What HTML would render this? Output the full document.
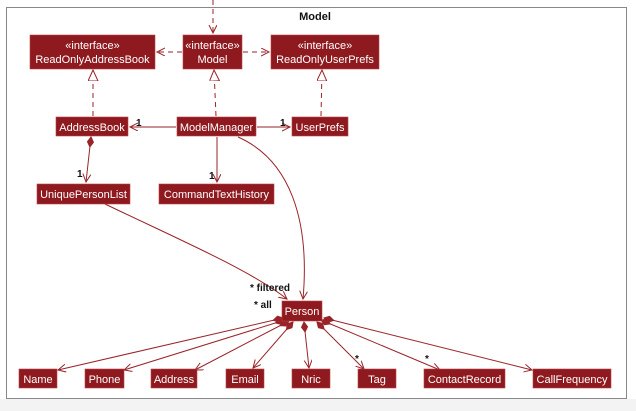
<!DOCTYPE html>
<html><head><meta charset="utf-8"><style>
html,body{margin:0;padding:0;background:#fff;}
svg{display:block;font-family:"Liberation Sans",sans-serif;}
.b{fill:#8e1a1f;stroke:#b8454a;stroke-width:.6}
.t{fill:#fff;font-size:11px;text-anchor:middle}
.l{stroke:#9a2328;stroke-width:1;fill:none}
.d{stroke-dasharray:5,4}
.m{font-size:10px;font-weight:bold;fill:#111}
</style></head><body>
<svg width="636" height="411" viewBox="0 0 636 411">
<rect x="0" y="0" width="636" height="411" fill="#fff"/>
<rect x="0" y="399" width="636" height="12" fill="#f3f3f3"/>
<rect x="6.5" y="7.5" width="620" height="391" fill="#fff" stroke="#888" stroke-width="1"/>
<text x="315" y="20" font-size="11" font-weight="bold" text-anchor="middle" fill="#111">Model</text>
<defs>
<marker id="a" markerWidth="10" markerHeight="10" refX="8" refY="4" orient="auto" markerUnits="userSpaceOnUse"><path d="M0,0 L8,4 L0,8" fill="none" stroke="#9a2328"/></marker>
<marker id="tri" markerWidth="14" markerHeight="14" refX="11" refY="5" orient="auto" markerUnits="userSpaceOnUse"><path d="M0,0 L11,5 L0,10 Z" fill="#fff" stroke="#9a2328"/></marker>
<marker id="dia" markerWidth="14" markerHeight="10" refX="1" refY="4" orient="auto" markerUnits="userSpaceOnUse"><path d="M1,4 L6,1 L11,4 L6,7 Z" fill="#9a2328" stroke="#9a2328"/></marker>
</defs>
<line class="l d" x1="213" y1="0" x2="213" y2="33" marker-end="url(#a)"/>
<line class="l d" x1="182" y1="52" x2="157" y2="52" marker-end="url(#a)"/>
<line class="l d" x1="243" y1="52" x2="269" y2="52" marker-end="url(#a)"/>
<line class="l d" x1="93" y1="116" x2="93" y2="70" marker-end="url(#tri)"/>
<line class="l d" x1="216" y1="116" x2="214" y2="70" marker-end="url(#tri)"/>
<line class="l d" x1="321" y1="116" x2="322" y2="70" marker-end="url(#tri)"/>
<line class="l" x1="176" y1="127" x2="130" y2="127" marker-end="url(#a)"/>
<line class="l" x1="257" y1="127" x2="290" y2="127" marker-end="url(#a)"/>
<line class="l" x1="217" y1="137" x2="217" y2="182" marker-end="url(#a)"/>
<line class="l" x1="91" y1="137" x2="86" y2="182" marker-start="url(#dia)" marker-end="url(#a)"/>
<path class="l" d="M238 137 C290 160,310 220,303 299" marker-end="url(#a)"/>
<path class="l" d="M105 204 C180 240,250 270,287 299" marker-end="url(#a)"/>
<g class="l">
<line x1="283" y1="318" x2="58" y2="370" marker-start="url(#dia)" marker-end="url(#a)"/>
<line x1="285" y1="320" x2="124" y2="370" marker-start="url(#dia)" marker-end="url(#a)"/>
<line x1="289" y1="321" x2="195" y2="370" marker-start="url(#dia)" marker-end="url(#a)"/>
<line x1="293" y1="322" x2="253" y2="368" marker-start="url(#dia)" marker-end="url(#a)"/>
<line x1="304" y1="322" x2="309" y2="368" marker-start="url(#dia)" marker-end="url(#a)"/>
<line x1="317" y1="322" x2="364" y2="369" marker-start="url(#dia)" marker-end="url(#a)"/>
<line x1="321" y1="320" x2="440" y2="370" marker-start="url(#dia)" marker-end="url(#a)"/>
<line x1="324" y1="318" x2="532" y2="370" marker-start="url(#dia)" marker-end="url(#a)"/>
</g>
<text class="m" x="136" y="126">1</text>
<text class="m" x="280" y="126">1</text>
<text class="m" x="209" y="179">1</text>
<text class="m" x="77" y="177">1</text>
<text class="m" x="250" y="291">* filtered</text>
<text class="m" x="254" y="308">* all</text>
<text class="m" x="355" y="362" font-weight="normal">*</text>
<text class="m" x="425" y="362" font-weight="normal">*</text>
<rect class="b" x="30" y="35" width="125" height="34"/><text class="t" x="92.5" y="49">«interface»</text><text class="t" x="92.5" y="63">ReadOnlyAddressBook</text>
<rect class="b" x="183" y="35" width="59" height="34"/><text class="t" x="212.5" y="49">«interface»</text><text class="t" x="212.5" y="63">Model</text>
<rect class="b" x="271" y="35" width="108" height="34"/><text class="t" x="325" y="49">«interface»</text><text class="t" x="325" y="63">ReadOnlyUserPrefs</text>
<rect class="b" x="56" y="117" width="72" height="19"/><text class="t" x="92" y="131">AddressBook</text>
<rect class="b" x="177" y="117" width="79" height="19"/><text class="t" x="216.5" y="131">ModelManager</text>
<rect class="b" x="292" y="117" width="56" height="19"/><text class="t" x="320" y="131">UserPrefs</text>
<rect class="b" x="37" y="184" width="93" height="20"/><text class="t" x="83.5" y="198">UniquePersonList</text>
<rect class="b" x="159" y="184" width="115" height="20"/><text class="t" x="216.5" y="198">CommandTextHistory</text>
<rect class="b" x="282" y="301" width="40" height="20"/><text class="t" x="302" y="315">Person</text>
<rect class="b" x="19" y="369" width="38" height="19"/><text class="t" x="38" y="383">Name</text>
<rect class="b" x="85" y="369" width="39" height="19"/><text class="t" x="104.5" y="383">Phone</text>
<rect class="b" x="151" y="369" width="46" height="19"/><text class="t" x="174" y="383">Address</text>
<rect class="b" x="226" y="369" width="38" height="19"/><text class="t" x="245" y="383">Email</text>
<rect class="b" x="292" y="369" width="38" height="19"/><text class="t" x="311" y="383">Nric</text>
<rect class="b" x="358" y="369" width="38" height="19"/><text class="t" x="377" y="383">Tag</text>
<rect class="b" x="424" y="369" width="81" height="19"/><text class="t" x="464.5" y="383">ContactRecord</text>
<rect class="b" x="533" y="369" width="78" height="19"/><text class="t" x="572" y="383">CallFrequency</text>
</svg>
</body></html>
